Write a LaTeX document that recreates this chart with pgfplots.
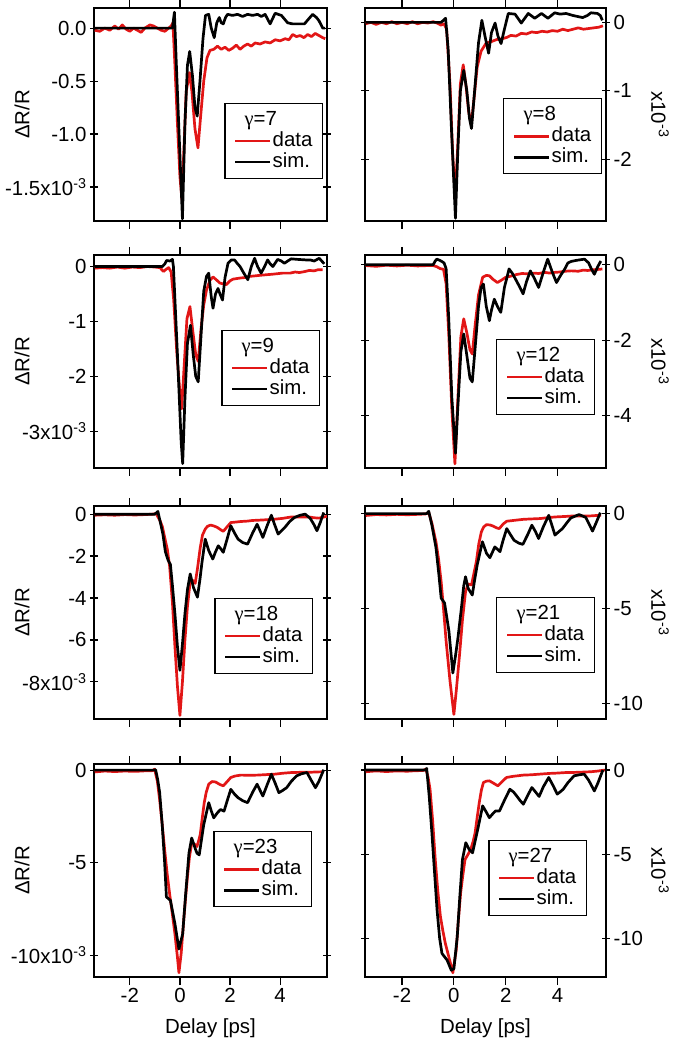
\documentclass[border=0pt]{standalone}
\usepackage{pgfplots}
\pgfplotsset{compat=1.18}
\usepackage{fontspec}
\setmainfont{Liberation Sans}
\newfontfamily\gfont{Liberation Serif}
\newcommand{\gam}{{\gfont γ}}
\definecolor{datared}{RGB}{226,22,22}
\newcommand{\legtitle}[1]{%
  \addlegendimage{legend image code/.code={\node[overlay, anchor=west, inner sep=0pt, text height=15bp, text depth=4bp] at (8bp,0bp) {#1};}}%
  \addlegendentry{\phantom{x}}}
\pgfplotsset{
  panel/.style={
    scale only axis, height=213bp,
    xmin=-3.43, xmax=5.87,
    xtick={-2,0,2,4}, xtick pos=both, ytick pos=both,
    xtick align=outside, ytick align=center,
    major tick length=8bp,
    axis line style={line width=1.2bp},
    tick style={line width=1.2bp, black},
    tick label style={font=\fontsize{20.5}{20.5}\selectfont},
    label style={font=\fontsize{20.5}{20.5}\selectfont},
    xticklabels={},
    legend cell align=left,
    legend image code/.code={\draw[#1] (0bp,0bp) -- (35bp,0bp);},
    legend style={draw=black, line width=1.2bp, font=\fontsize{20.5}{20.5}\selectfont,
      inner xsep=9bp, inner ysep=6bp, row sep=0bp,
      nodes={inner sep=1bp, text height=15bp, text depth=4bp},
      /tikz/every even column/.append style={column sep=10bp}},
    every axis plot/.append style={line width=2.7bp, line join=round},
  },
  leftcol/.style={panel, at={(94bp,#1)}, anchor=south west, width=233bp,
    ylabel={ΔR/R},
    ylabel style={at={(axis description cs:-0.309,0.5)}, anchor=center}},
  rightcol/.style={panel, at={(365bp,#1)}, anchor=south west, width=241bp,
    yticklabel pos=right,
    ylabel={x10\textsuperscript{-3}},
    ylabel style={at={(axis description cs:1.224,0.5)}, anchor=center, rotate=180}},
  datastyle/.style={datared},
  simstyle/.style={black},
}
\begin{document}
\begin{tikzpicture}
\path[use as bounding box] (0,0) rectangle (685bp,1043bp);

% ---------------- Row 1 left: gamma = 7
\begin{axis}[leftcol=822bp, ymin=-1.82, ymax=0.19,
  ytick={0,-0.5,-1,-1.5}, yticklabels={0.0,-0.5,-1.0,{-1.5x10\textsuperscript{-3}}},
  legend style={at={(0.983,0.554)}, anchor=north east}]
\legtitle{\gam=7}
\addplot[datastyle] coordinates {(-3.4,-0.02) (-3.2,-0.03) (-3.0,0.0) (-2.8,-0.02) (-2.6,0.02) (-2.45,-0.01) (-2.3,0.03) (-2.15,-0.01) (-2.0,-0.03) (-1.85,0.0) (-1.7,-0.02) (-1.55,-0.04) (-1.4,0.0) (-1.2,0.03) (-1.05,0.02) (-0.9,0.0) (-0.75,-0.02) (-0.6,-0.03) (-0.45,0.0) (-0.35,0.02) (-0.28,0.05) (-0.2,-0.35) (-0.1,-0.9) (0.0,-1.4) (0.08,-1.62) (0.15,-1.2) (0.25,-0.6) (0.38,-0.42) (0.48,-0.6) (0.6,-0.95) (0.72,-1.13) (0.82,-0.85) (0.95,-0.5) (1.08,-0.28) (1.2,-0.21) (1.35,-0.2) (1.5,-0.17) (1.65,-0.2) (1.8,-0.18) (1.95,-0.21) (2.1,-0.19) (2.25,-0.16) (2.4,-0.2) (2.55,-0.17) (2.7,-0.15) (2.85,-0.17) (3.0,-0.14) (3.2,-0.15) (3.4,-0.13) (3.6,-0.14) (3.8,-0.11) (4.0,-0.12) (4.2,-0.1) (4.35,-0.11) (4.5,-0.06) (4.65,-0.08) (4.8,-0.07) (4.95,-0.09) (5.1,-0.06) (5.25,-0.08) (5.4,-0.05) (5.55,-0.07) (5.7,-0.09) (5.8,-0.1)};
\addlegendentry{data}
\addplot[simstyle] coordinates {(-3.4,0) (-0.3,0) (-0.22,0.15) (-0.15,-0.3) (0.0,-1.2) (0.1,-1.80) (0.2,-0.9) (0.3,-0.35) (0.39,-0.22) (0.5,-0.45) (0.6,-0.75) (0.69,-0.83) (0.8,-0.5) (0.92,-0.1) (1.02,0.12) (1.15,0.13) (1.25,0.0) (1.37,-0.09) (1.47,0.05) (1.57,0.10) (1.65,0.05) (1.73,0.04) (1.82,0.1) (1.9,0.13) (2.1,0.12) (2.3,0.13) (2.5,0.11) (2.7,0.13) (2.9,0.12) (3.1,0.13) (3.25,0.11) (3.4,0.13) (3.6,0.04) (3.8,0.14) (4.05,0.12) (4.3,0.05) (4.5,0.04) (4.7,0.04) (4.97,0.04) (5.15,0.09) (5.3,0.13) (5.45,0.1) (5.55,0.07) (5.7,0.0) (5.8,0.0)};
\addlegendentry{sim.}
\end{axis}

% ---------------- Row 1 right: gamma = 8
\begin{axis}[rightcol=822bp, ymin=-2.9, ymax=0.21,
  ytick={0,-1,-2}, yticklabels={0,-1,-2},
  legend style={at={(0.983,0.577)}, anchor=north east}]
\legtitle{\gam=8}
\addplot[datastyle] coordinates {(-3.4,-0.02) (-3.2,0.0) (-3.0,-0.03) (-2.8,0.0) (-2.6,-0.02) (-2.4,0.01) (-2.2,-0.02) (-2.0,0.0) (-1.8,-0.02) (-1.6,0.01) (-1.4,-0.02) (-1.2,0.0) (-1.0,-0.01) (-0.8,0.01) (-0.65,-0.01) (-0.5,-0.04) (-0.38,-0.02) (-0.28,-0.1) (-0.15,-0.9) (-0.05,-1.9) (0.05,-2.55) (0.15,-1.8) (0.25,-0.9) (0.36,-0.62) (0.46,-0.9) (0.57,-1.3) (0.67,-1.5) (0.78,-1.1) (0.9,-0.65) (1.05,-0.42) (1.25,-0.3) (1.45,-0.28) (1.66,-0.25) (1.85,-0.24) (2.04,-0.22) (2.2,-0.19) (2.4,-0.2) (2.6,-0.16) (2.8,-0.17) (3.0,-0.14) (3.2,-0.15) (3.4,-0.13) (3.6,-0.14) (3.8,-0.12) (4.0,-0.13) (4.2,-0.1) (4.4,-0.12) (4.6,-0.1) (4.8,-0.08) (5.0,-0.1) (5.2,-0.09) (5.4,-0.08) (5.6,-0.07) (5.75,-0.05)};
\addlegendentry{data}
\addplot[simstyle] coordinates {(-3.4,0) (-0.5,0) (-0.4,0.03) (-0.32,0.06) (-0.22,-0.4) (-0.1,-1.5) (0.06,-2.86) (0.15,-1.9) (0.25,-1.0) (0.38,-0.70) (0.5,-1.0) (0.6,-1.4) (0.68,-1.55) (0.8,-1.0) (0.95,-0.3) (1.08,0.03) (1.2,-0.2) (1.34,-0.45) (1.45,-0.15) (1.59,-0.01) (1.7,-0.2) (1.82,-0.31) (1.95,-0.1) (2.1,0.13) (2.36,0.12) (2.6,-0.01) (2.87,0.13) (3.12,0.06) (3.38,0.13) (3.63,0.06) (3.89,0.14) (4.1,0.12) (4.33,0.13) (4.6,0.1) (4.97,0.07) (5.15,0.1) (5.29,0.14) (5.54,0.13) (5.65,0.1) (5.73,0.03)};
\addlegendentry{sim.}
\end{axis}

% ---------------- Row 2 left: gamma = 9
\begin{axis}[leftcol=575bp, ymin=-3.67, ymax=0.21,
  ytick={0,-1,-2,-3}, yticklabels={0,-1,-2,{-3x10\textsuperscript{-3}}},
  legend style={at={(0.970,0.648)}, anchor=north east}]
\legtitle{\gam=9}
\addplot[datastyle] coordinates {(-3.4,-0.03) (-3.1,-0.02) (-2.8,-0.03) (-2.5,-0.01) (-2.2,-0.03) (-1.9,-0.01) (-1.6,-0.02) (-1.3,0.0) (-1.0,-0.01) (-0.8,-0.02) (-0.66,-0.09) (-0.55,-0.05) (-0.45,-0.02) (-0.35,-0.1) (-0.25,-0.6) (-0.12,-1.6) (0.0,-2.3) (0.07,-2.59) (0.17,-1.8) (0.28,-0.95) (0.40,-0.73) (0.52,-1.2) (0.63,-1.6) (0.73,-1.73) (0.85,-1.1) (0.95,-0.7) (1.06,-0.43) (1.2,-0.25) (1.32,-0.19) (1.45,-0.24) (1.59,-0.3) (1.75,-0.32) (1.85,-0.33) (2.0,-0.26) (2.12,-0.23) (2.4,-0.21) (2.6,-0.2) (2.78,-0.18) (3.0,-0.17) (3.2,-0.16) (3.44,-0.15) (3.7,-0.14) (3.9,-0.13) (4.1,-0.12) (4.4,-0.12) (4.6,-0.1) (4.77,-0.11) (5.0,-0.09) (5.17,-0.07) (5.35,-0.08) (5.5,-0.06) (5.7,-0.06)};
\addlegendentry{data}
\addplot[simstyle] coordinates {(-3.4,0) (-0.7,0) (-0.6,0.05) (-0.53,0.11) (-0.4,0.1) (-0.3,0.13) (-0.26,0.0) (-0.1,-1.6) (0.05,-3.2) (0.11,-3.59) (0.2,-2.4) (0.3,-1.4) (0.42,-1.07) (0.53,-1.6) (0.63,-2.0) (0.73,-2.10) (0.85,-1.2) (0.95,-0.45) (1.06,-0.18) (1.15,-0.12) (1.25,-0.55) (1.32,-0.76) (1.42,-0.5) (1.52,-0.40) (1.6,-0.5) (1.7,-0.61) (1.8,-0.2) (1.92,0.06) (2.05,0.12) (2.18,0.12) (2.3,0.05) (2.4,0.0) (2.55,-0.12) (2.71,-0.24) (2.85,0.0) (2.98,0.15) (3.1,0.0) (3.24,-0.12) (3.38,0.0) (3.5,0.12) (3.6,0.05) (3.71,0.0) (3.9,0.13) (4.05,0.1) (4.17,0.06) (4.3,0.1) (4.44,0.14) (4.7,0.13) (5.03,0.12) (5.2,0.12) (5.36,0.1) (5.56,0.15) (5.66,0.1) (5.76,0.05)};
\addlegendentry{sim.}
\end{axis}

% ---------------- Row 2 right: gamma = 12
\begin{axis}[rightcol=575bp, ymin=-5.38, ymax=0.26,
  ytick={0,-2,-4}, yticklabels={0,-2,-4},
  legend style={at={(0.954,0.606)}, anchor=north east}]
\legtitle{\gam=12}
\addplot[datastyle] coordinates {(-3.4,-0.02) (-3.0,-0.04) (-2.6,-0.01) (-2.2,-0.03) (-1.8,-0.01) (-1.4,-0.03) (-1.0,-0.02) (-0.8,-0.02) (-0.66,-0.05) (-0.53,-0.1) (-0.4,-0.12) (-0.3,-0.5) (-0.2,-1.8) (-0.08,-3.8) (0.04,-5.27) (0.15,-3.6) (0.27,-1.9) (0.38,-1.43) (0.5,-1.8) (0.62,-2.25) (0.71,-2.36) (0.82,-1.6) (0.95,-0.8) (1.11,-0.33) (1.25,-0.28) (1.37,-0.29) (1.5,-0.38) (1.68,-0.47) (1.85,-0.4) (2.0,-0.33) (2.2,-0.3) (2.4,-0.26) (2.63,-0.23) (2.9,-0.24) (3.1,-0.22) (3.27,-0.23) (3.5,-0.2) (3.7,-0.22) (3.9,-0.2) (4.1,-0.19) (4.3,-0.17) (4.53,-0.16) (4.8,-0.17) (5.0,-0.14) (5.16,-0.15) (5.4,-0.13) (5.6,-0.12) (5.73,-0.11)};
\addlegendentry{data}
\addplot[simstyle] coordinates {(-3.4,0) (-0.8,0) (-0.72,0.1) (-0.66,0.15) (-0.55,0.12) (-0.47,0.09) (-0.38,0.05) (-0.3,-0.1) (-0.2,-1.4) (-0.08,-3.5) (0.06,-4.99) (0.15,-3.8) (0.27,-2.3) (0.38,-1.83) (0.5,-2.4) (0.62,-3.0) (0.71,-3.10) (0.82,-2.2) (0.95,-1.1) (1.05,-0.60) (1.14,-0.51) (1.25,-1.1) (1.37,-1.48) (1.45,-1.2) (1.56,-0.91) (1.68,-1.1) (1.81,-1.26) (1.95,-0.6) (2.13,-0.11) (2.25,-0.22) (2.38,-0.38) (2.55,-0.6) (2.67,-0.77) (2.8,-0.45) (2.95,-0.16) (3.1,-0.35) (3.27,-0.60) (3.45,-0.2) (3.62,0.15) (3.8,-0.2) (3.96,-0.47) (4.1,-0.3) (4.28,-0.11) (4.4,0.05) (4.53,0.09) (4.75,0.12) (5.04,0.15) (5.2,0.05) (5.3,-0.1) (5.42,-0.25) (5.55,-0.05) (5.67,0.1)};
\addlegendentry{sim.}
\end{axis}

% ---------------- Row 3 left: gamma = 18
\begin{axis}[leftcol=324bp, ymin=-9.77, ymax=0.39,
  ytick={0,-2,-4,-6,-8}, yticklabels={0,-2,-4,-6,{-8x10\textsuperscript{-3}}},
  legend style={at={(0.94,0.568)}, anchor=north east}]
\legtitle{\gam=18}
\addplot[datastyle] coordinates {(-3.4,-0.05) (-3.0,-0.03) (-2.6,-0.05) (-2.2,-0.02) (-1.8,-0.04) (-1.4,-0.02) (-1.1,0.0) (-0.95,0.03) (-0.8,-0.3) (-0.7,-0.6) (-0.61,-1.1) (-0.5,-1.7) (-0.41,-2.5) (-0.3,-4.2) (-0.2,-6.3) (-0.1,-8.2) (0.0,-9.6) (0.1,-8.0) (0.2,-6.0) (0.3,-4.4) (0.41,-3.2) (0.5,-3.15) (0.61,-3.3) (0.7,-2.6) (0.81,-1.6) (0.9,-1.0) (1.01,-0.71) (1.1,-0.58) (1.22,-0.52) (1.35,-0.56) (1.49,-0.63) (1.6,-0.72) (1.73,-0.82) (1.85,-0.65) (2.03,-0.40) (2.2,-0.38) (2.43,-0.35) (2.7,-0.33) (2.9,-0.3) (3.1,-0.29) (3.4,-0.27) (3.78,-0.24) (4.1,-0.2) (4.46,-0.13) (4.8,-0.14) (5.14,-0.13) (5.35,-0.17) (5.54,-0.19) (5.7,-0.15) (5.88,-0.1)};
\addlegendentry{data}
\addplot[simstyle] coordinates {(-3.4,0) (-1.0,0) (-0.88,0.13) (-0.78,-0.4) (-0.68,-0.95) (-0.58,-1.8) (-0.47,-2.2) (-0.38,-2.4) (-0.3,-3.4) (-0.2,-4.75) (-0.1,-6.3) (0.0,-7.45) (0.1,-6.2) (0.2,-4.75) (0.3,-3.6) (0.41,-2.85) (0.54,-3.5) (0.70,-3.96) (0.8,-3.1) (0.88,-2.3) (1.01,-1.19) (1.15,-1.74) (1.31,-2.14) (1.42,-1.8) (1.53,-1.51) (1.63,-1.65) (1.73,-1.82) (1.88,-1.2) (2.03,-0.55) (2.18,-0.9) (2.32,-1.19) (2.5,-1.35) (2.70,-1.43) (2.9,-0.9) (3.08,-0.48) (3.2,-0.8) (3.31,-1.11) (3.48,-0.55) (3.65,-0.05) (3.78,-0.5) (3.92,-0.95) (4.05,-0.8) (4.19,-0.63) (4.38,-0.35) (4.57,-0.16) (4.8,-0.05) (5.0,0.0) (5.2,-0.2) (5.35,-0.5) (5.47,-0.79) (5.6,-0.4) (5.74,0.08)};
\addlegendentry{sim.}
\end{axis}

% ---------------- Row 3 right: gamma = 21
\begin{axis}[rightcol=324bp, ymin=-10.8, ymax=0.4,
  ytick={0,-5,-10}, yticklabels={0,-5,-10},
  legend style={at={(0.954,0.573)}, anchor=north east}]
\legtitle{\gam=21}
\addplot[datastyle] coordinates {(-3.4,-0.1) (-3.0,-0.05) (-2.6,-0.07) (-2.2,-0.04) (-1.8,-0.06) (-1.4,-0.04) (-1.1,-0.02) (-0.97,0.05) (-0.85,-0.5) (-0.69,-1.5) (-0.59,-2.4) (-0.49,-3.6) (-0.4,-5.0) (-0.3,-6.7) (-0.15,-8.8) (0.0,-10.56) (0.1,-9.2) (0.22,-7.4) (0.33,-5.6) (0.45,-4.1) (0.55,-3.7) (0.68,-3.75) (0.78,-3.1) (0.87,-2.5) (0.96,-1.6) (1.06,-0.96) (1.15,-0.7) (1.26,-0.58) (1.4,-0.6) (1.52,-0.66) (1.65,-0.75) (1.75,-0.79) (1.9,-0.55) (2.04,-0.40) (2.3,-0.36) (2.69,-0.30) (3.0,-0.28) (3.34,-0.26) (3.7,-0.2) (3.99,-0.17) (4.3,-0.15) (4.64,-0.12) (5.0,-0.13) (5.29,-0.12) (5.5,-0.1) (5.68,-0.09)};
\addlegendentry{data}
\addplot[simstyle] coordinates {(-3.4,0) (-1.05,0) (-0.97,0.12) (-0.85,-0.6) (-0.69,-1.8) (-0.58,-3.2) (-0.49,-4.45) (-0.36,-4.7) (-0.28,-5.4) (-0.19,-6.2) (-0.04,-8.38) (0.06,-7.5) (0.16,-6.5) (0.29,-4.97) (0.38,-3.8) (0.45,-3.32) (0.55,-3.93) (0.71,-4.28) (0.8,-3.5) (0.9,-2.7) (1.1,-1.48) (1.26,-2.09) (1.39,-2.32) (1.58,-1.75) (1.78,-2.0) (1.9,-1.4) (2.04,-0.79) (2.18,-1.1) (2.32,-1.40) (2.5,-1.55) (2.66,-1.62) (2.85,-1.1) (3.01,-0.61) (3.15,-0.95) (3.27,-1.31) (3.45,-0.7) (3.66,-0.09) (3.78,-0.6) (3.9,-1.13) (4.05,-0.95) (4.19,-0.79) (4.35,-0.5) (4.51,-0.23) (4.83,-0.05) (5.09,-0.2) (5.2,-0.5) (5.35,-0.92) (5.5,-0.45) (5.65,0.05)};
\addlegendentry{sim.}
\end{axis}

% ---------------- Row 4 left: gamma = 23
\begin{axis}[leftcol=66bp, ymin=-11.18, ymax=0.33,
  ytick={0,-5,-10}, yticklabels={0,-5,{-10x10\textsuperscript{-3}}},
  xticklabels={-2,0,2,4}, xlabel={Delay [ps]},
  xlabel style={at={(axis description cs:0.5,-0.24)}, anchor=center},
  legend style={at={(0.936,0.685)}, anchor=north east}]
\legtitle{\gam=23}
\addplot[datastyle] coordinates {(-3.4,-0.1) (-3.0,-0.05) (-2.6,-0.08) (-2.2,-0.05) (-1.8,-0.07) (-1.4,-0.04) (-1.1,-0.03) (-1.01,0.05) (-0.9,-0.6) (-0.81,-1.6) (-0.71,-2.9) (-0.61,-4.3) (-0.51,-5.6) (-0.41,-6.7) (-0.3,-7.8) (-0.2,-8.85) (-0.1,-10.1) (-0.04,-10.95) (0.05,-9.9) (0.14,-8.3) (0.22,-7.0) (0.3,-5.76) (0.38,-4.7) (0.47,-3.95) (0.58,-4.0) (0.68,-4.13) (0.75,-3.8) (0.81,-3.49) (0.9,-2.5) (0.97,-1.76) (1.05,-1.2) (1.15,-0.76) (1.28,-0.62) (1.42,-0.64) (1.6,-0.78) (1.73,-0.85) (1.9,-0.6) (2.03,-0.40) (2.2,-0.32) (2.43,-0.27) (2.8,-0.28) (3.1,-0.27) (3.5,-0.24) (3.78,-0.22) (4.1,-0.17) (4.46,-0.13) (4.8,-0.12) (5.14,-0.12) (5.45,-0.1) (5.74,-0.09)};
\addlegendentry{data}
\addplot[simstyle] coordinates {(-3.4,0) (-1.05,0) (-0.97,0.02) (-0.89,-0.5) (-0.81,-1.2) (-0.71,-2.9) (-0.61,-5.0) (-0.54,-6.85) (-0.38,-7.04) (-0.3,-7.6) (-0.2,-8.3) (-0.04,-9.67) (0.11,-8.85) (0.23,-6.67) (0.36,-4.49) (0.47,-3.67) (0.6,-4.2) (0.68,-4.49) (0.77,-4.58) (0.95,-2.95) (1.15,-1.76) (1.25,-2.2) (1.35,-2.58) (1.5,-2.3) (1.62,-2.13) (1.76,-2.22) (1.9,-1.6) (2.03,-1.04) (2.18,-1.3) (2.32,-1.49) (2.5,-1.65) (2.7,-1.76) (2.9,-1.2) (3.08,-0.76) (3.2,-1.1) (3.31,-1.4) (3.48,-0.8) (3.65,-0.22) (3.8,-0.7) (3.95,-1.22) (4.1,-1.1) (4.26,-0.95) (4.45,-0.6) (4.66,-0.31) (4.85,-0.2) (5.07,-0.13) (5.22,-0.5) (5.41,-0.95) (5.55,-0.6) (5.74,0.02)};
\addlegendentry{sim.}
\end{axis}

% ---------------- Row 4 right: gamma = 27
\begin{axis}[rightcol=66bp, ymin=-12.3, ymax=0.36,
  ytick={0,-5,-10}, yticklabels={0,-5,-10},
  xticklabels={-2,0,2,4}, xlabel={Delay [ps]},
  xlabel style={at={(axis description cs:0.5,-0.24)}, anchor=center},
  legend style={at={(0.921,0.643)}, anchor=north east}]
\legtitle{\gam=27}
\addplot[datastyle] coordinates {(-3.4,-0.1) (-3.0,-0.05) (-2.6,-0.09) (-2.2,-0.05) (-1.8,-0.07) (-1.5,-0.04) (-1.2,-0.03) (-1.08,0.05) (-1.0,-0.4) (-0.92,-1.14) (-0.82,-3.0) (-0.72,-5.3) (-0.62,-7.2) (-0.52,-8.7) (-0.42,-9.6) (-0.33,-10.3) (-0.23,-10.9) (-0.13,-11.5) (-0.04,-12.05) (0.09,-10.7) (0.17,-9.0) (0.26,-7.31) (0.35,-6.2) (0.43,-5.32) (0.55,-5.0) (0.65,-4.72) (0.75,-4.2) (0.82,-3.72) (0.9,-2.8) (0.98,-1.93) (1.06,-1.2) (1.14,-0.74) (1.25,-0.66) (1.37,-0.64) (1.55,-0.8) (1.7,-0.94) (1.85,-0.7) (2.03,-0.44) (2.3,-0.37) (2.68,-0.30) (3.0,-0.28) (3.33,-0.24) (3.7,-0.2) (3.99,-0.18) (4.3,-0.15) (4.64,-0.14) (5.0,-0.12) (5.29,-0.1) (5.55,-0.06) (5.82,0.0)};
\addlegendentry{data}
\addplot[simstyle] coordinates {(-3.4,0) (-1.1,0) (-1.05,0.1) (-0.95,-1.6) (-0.85,-3.7) (-0.75,-6.0) (-0.65,-8.3) (-0.55,-10.0) (-0.46,-10.9) (-0.36,-11.1) (-0.26,-11.3) (-0.1,-11.9) (0.0,-11.8) (0.13,-9.9) (0.23,-7.5) (0.33,-5.32) (0.46,-4.32) (0.59,-4.72) (0.72,-4.92) (0.92,-3.53) (1.11,-2.13) (1.25,-2.5) (1.37,-2.83) (1.5,-2.6) (1.61,-2.43) (1.76,-2.43) (1.95,-1.8) (2.16,-1.14) (2.3,-1.3) (2.42,-1.53) (2.55,-1.8) (2.68,-2.03) (2.85,-1.5) (3.01,-1.04) (3.15,-1.3) (3.29,-1.57) (3.45,-1.0) (3.66,-0.44) (3.82,-0.9) (3.99,-1.43) (4.1,-1.3) (4.22,-1.14) (4.4,-0.75) (4.64,-0.34) (4.85,-0.28) (5.03,-0.24) (5.2,-0.6) (5.42,-1.24) (5.55,-0.8) (5.75,0.0)};
\addlegendentry{sim.}
\end{axis}
\end{tikzpicture}
\end{document}
